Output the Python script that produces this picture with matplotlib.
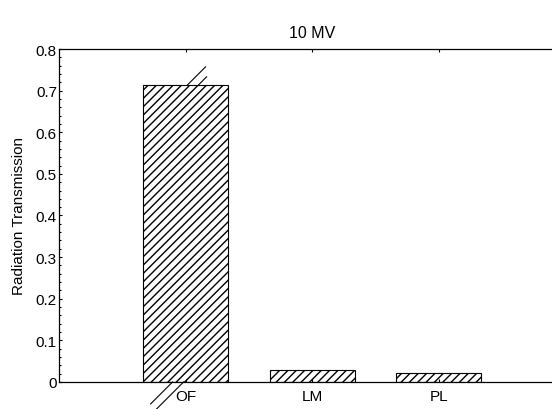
import matplotlib
matplotlib.use("Agg")
import matplotlib.pyplot as plt
from matplotlib.lines import Line2D
from matplotlib.ticker import MultipleLocator
from matplotlib.transforms import IdentityTransform

categories = ["OF", "LM", "PL"]
transmission = [0.714, 0.0295, 0.0215]
title = "10 MV"
ylabel = "Radiation Transmission"

plt.rcParams["font.family"] = ["Liberation Sans", "DejaVu Sans"]
plt.rcParams["hatch.linewidth"] = 1.0

fig = plt.figure(figsize=(5.52, 4.10), dpi=100)
ax = fig.add_axes([0.107, 0.066, 0.917, 0.812])

pos = list(range(1, len(categories) + 1))
bars = ax.bar(pos, transmission, width=0.67, color="white",
              edgecolor="black", linewidth=0.8, hatch="////")

ax.set_xlim(0, 4)
ax.set_ylim(0, 0.8)
ax.set_xticks(pos)
ax.set_xticklabels(categories, fontsize=11)
ax.yaxis.set_major_locator(MultipleLocator(0.1))
ax.yaxis.set_minor_locator(MultipleLocator(0.02))
ax.set_yticklabels(["0" if t == 0 else "%.1f" % t for t in ax.get_yticks()],
                   fontsize=11)
ax.tick_params(which="both", direction="in", top=True, right=True,
               length=2, width=0.8)
ax.tick_params(axis="y", pad=1.5)
ax.tick_params(axis="x", pad=5)
ax.tick_params(which="minor", length=1.5)
ax.tick_params(axis="x", which="minor", top=False, bottom=False)
for s in ax.spines.values():
    s.set_linewidth(0.9)

ax.set_ylabel(ylabel, fontsize=11, labelpad=7)
ax.set_title(title, fontsize=11.5, pad=9)

# hatch overrun on the tallest bar (rendering quirk in the original)
fig.canvas.draw()
b = bars[0]
cx = b.get_x() + b.get_width() / 2
top = ax.transData.transform((cx, b.get_height()))
bot = ax.transData.transform((cx, 0))
for dx, ln in [(2, 18), (13, 8)]:
    x0, y0 = top[0] + dx, top[1]
    fig.add_artist(Line2D([x0, x0 + ln], [y0, y0 + ln], color="black",
                          linewidth=0.8, transform=IdentityTransform()))
for dx, ln in [(-2, 27), (-13, 22)]:
    x0, y0 = bot[0] + dx, bot[1]
    fig.add_artist(Line2D([x0, x0 - ln], [y0, y0 - ln], color="black",
                          linewidth=0.8, transform=IdentityTransform()))

fig.savefig("out.png", dpi=100)
